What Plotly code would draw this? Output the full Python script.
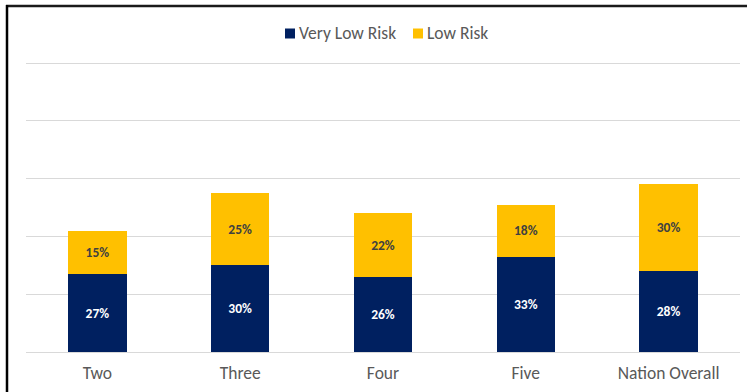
import plotly.graph_objects as go

# Risk level shares by grade group
categories = ["Two", "Three", "Four", "Five", "Nation Overall"]
very_low_risk = [27, 30, 26, 33, 28]
low_risk = [15, 25, 22, 18, 30]
series_names = ["Very Low Risk", "Low Risk"]
y_ticks = [0, 20, 40, 60, 80, 100]

NAVY = "#002060"
GOLD = "#FFC000"
TEXT = "#595959"
FONT = "Carlito, Calibri, Lato, sans-serif"

W, H = 747, 392
M = dict(l=26, r=7, t=62, b=40)


def px_x(p):
    """Pixel column -> paper x."""
    return (p - M["l"]) / (W - M["l"] - M["r"])


def px_y(p):
    """Pixel row (from top) -> paper y."""
    return (H - M["b"] - p) / (H - M["t"] - M["b"])


fig = go.Figure()
fig.add_trace(go.Bar(
    x=categories, y=very_low_risk, name=series_names[0],
    marker=dict(color=NAVY, line=dict(width=0)),
    text=[f"{v}%" for v in very_low_risk],
    textposition="inside", insidetextanchor="middle",
    textfont=dict(color="white", size=13.5, family=FONT, weight="bold"),
    textangle=0,
))
fig.add_trace(go.Bar(
    x=categories, y=low_risk, name=series_names[1],
    marker=dict(color=GOLD, line=dict(width=0)),
    text=[f"{v}%" for v in low_risk],
    textposition="inside", insidetextanchor="middle",
    textfont=dict(color="#404040", size=13.5, family=FONT, weight="bold"),
    textangle=0,
))

# Legend drawn as swatches plus labels for tight spacing
legend_items = [(series_names[0], NAVY, 285), (series_names[1], GOLD, 413)]
shapes = []
annotations = []
for name, color, left in legend_items:
    shapes.append(dict(
        type="rect", xref="paper", yref="paper",
        x0=px_x(left), x1=px_x(left + 10), y0=px_y(28.5), y1=px_y(38.5),
        fillcolor=color, line=dict(width=0),
    ))
    annotations.append(dict(
        xref="paper", yref="paper", x=px_x(left + 12), y=px_y(33),
        xanchor="left", yanchor="middle", showarrow=False, text=name,
        font=dict(size=17.5, color=TEXT, family=FONT),
    ))

# Frame edges along the top and left of the chart area
shapes += [
    dict(type="line", xref="paper", yref="paper",
         x0=px_x(6), x1=px_x(W + 5), y0=px_y(6), y1=px_y(6),
         line=dict(color="#1a1a1a", width=2.5)),
    dict(type="line", xref="paper", yref="paper",
         x0=px_x(7), x1=px_x(7), y0=px_y(5), y1=px_y(H + 5),
         line=dict(color="black", width=2.5)),
]

fig.update_layout(
    width=W, height=H,
    barmode="stack", bargap=0.59,
    margin=M,
    paper_bgcolor="white", plot_bgcolor="white",
    font=dict(family=FONT, color=TEXT, size=17.5),
    showlegend=False,
    xaxis=dict(
        showgrid=False, showline=False, ticks="",
        tickfont=dict(size=17.5, color=TEXT, family=FONT),
        ticklabelstandoff=8,
    ),
    yaxis=dict(
        range=[0, 100.4], tickvals=y_ticks, showticklabels=False,
        showgrid=True, gridcolor="#D9D9D9", gridwidth=1,
        zeroline=True, zerolinecolor="#D9D9D9", zerolinewidth=1,
        showline=False, ticks="",
    ),
    shapes=shapes,
    annotations=annotations,
)

fig.write_html("out.html")
